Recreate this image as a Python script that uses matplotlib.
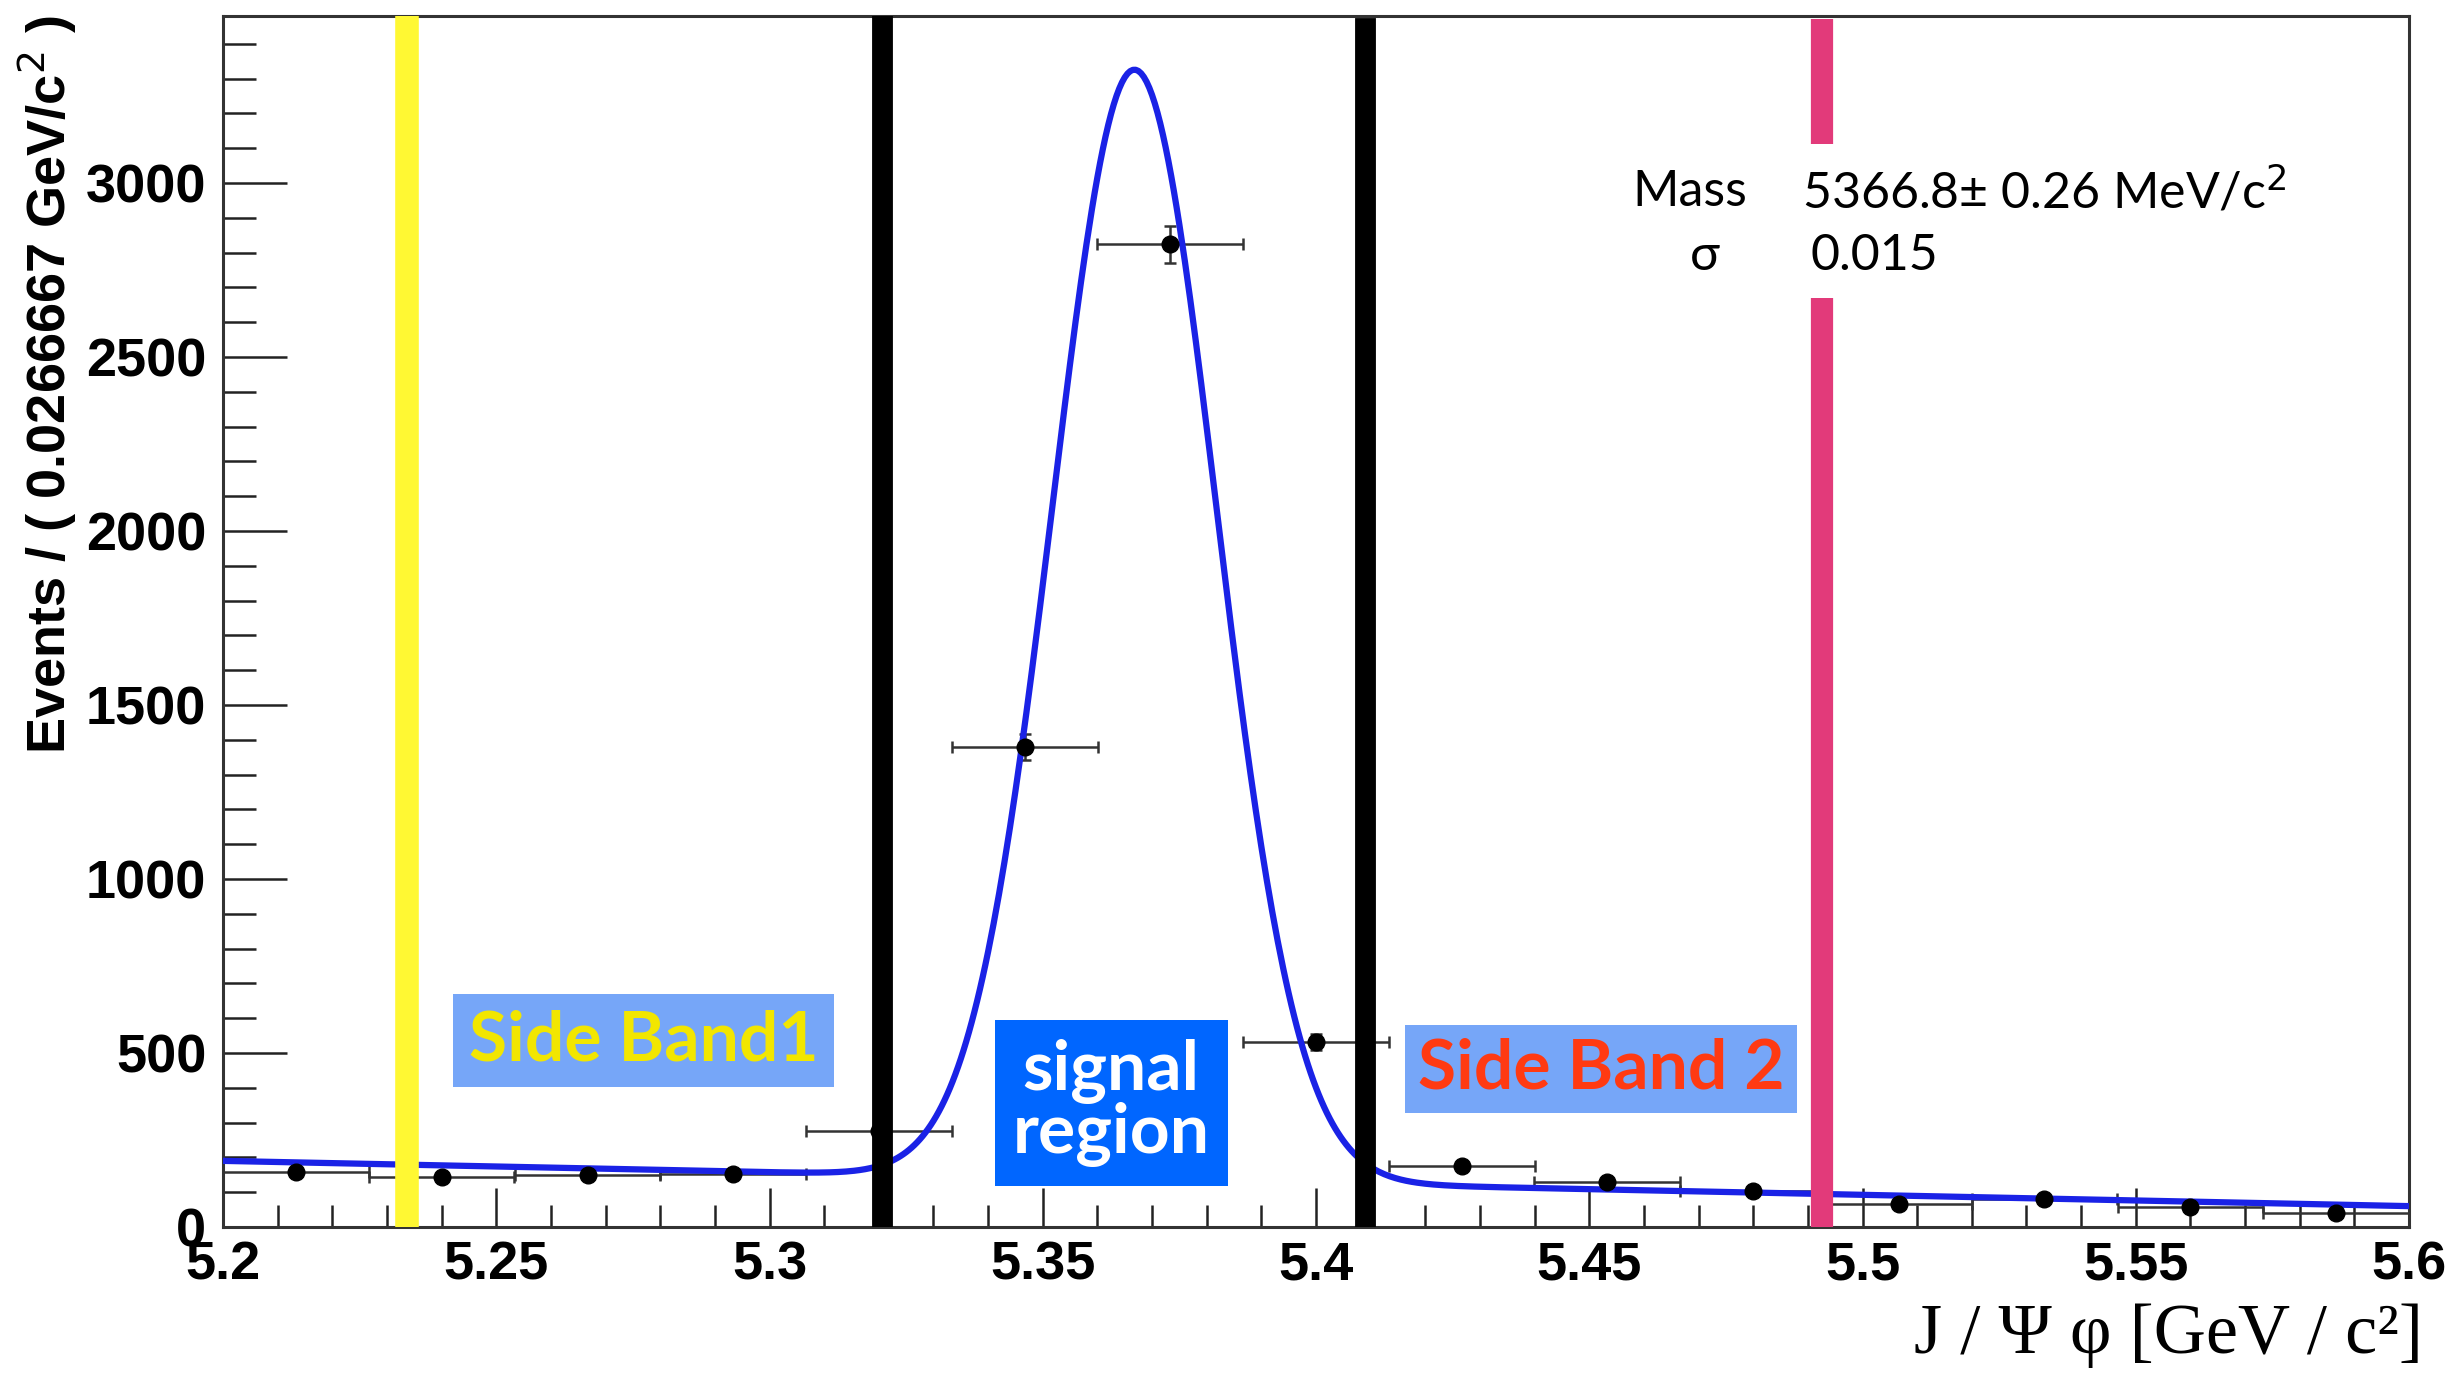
import numpy as np
import matplotlib
matplotlib.use("Agg")
import matplotlib.pyplot as plt
from matplotlib.ticker import MultipleLocator

# Binned J/psi phi invariant mass (15 bins of 0.0266667 GeV/c^2)
bin_centers = [5.2133, 5.2400, 5.2667, 5.2933, 5.3200, 5.3467, 5.3733,
               5.4000, 5.4267, 5.4533, 5.4800, 5.5067, 5.5333, 5.5600, 5.5867]
events = [158, 144, 149, 153, 275, 1380, 2824, 532, 176, 130, 104, 66, 80, 57, 39]
bin_half_width = 0.0133333

# Fit result: gaussian signal on a linear background
fit_mass = 5.3668     # GeV/c^2
fit_sigma = 0.015
fit_amplitude = 3190
bkg_lo, bkg_hi = 190, 60   # background at 5.2 and 5.6

# Region boundaries
sideband1_edge = 5.2337
signal_edges = [5.3205, 5.409]
sideband2_edge = 5.4926

mass_grid = np.linspace(5.2, 5.6, 801)
background = bkg_lo + (bkg_hi - bkg_lo) * (mass_grid - 5.2) / 0.4
fit_curve = background + fit_amplitude * np.exp(-0.5 * ((mass_grid - fit_mass) / fit_sigma) ** 2)

fig = plt.figure(figsize=(24.61, 13.88), dpi=100)
ax = fig.add_axes([223 / 2461, 1 - 1227 / 1388, 2186 / 2461, 1211 / 1388])

ax.set_xlim(5.2, 5.6)
ax.set_ylim(0, 3480)

# region lines
ax.axvline(sideband1_edge, ymin=0.0, ymax=0.995, color="#FFF833", lw=17, zorder=4)
ax.axvline(signal_edges[0], ymin=0.0, ymax=1.0, color="black", lw=15, zorder=4)
ax.axvline(signal_edges[1], ymin=0.0, ymax=0.99, color="black", lw=15, zorder=4)
ax.vlines(sideband2_edge, 0, 2670, color="#E23A7A", lw=16, zorder=4)
ax.vlines(sideband2_edge, 3112, 3470, color="#E23A7A", lw=16, zorder=4)

# data with errors
ax.errorbar(bin_centers, events, xerr=bin_half_width, yerr=np.sqrt(events),
            fmt="o", color="black", ecolor="#333333", elinewidth=1.8,
            capsize=4, capthick=1.8, markersize=12, zorder=3)

ax.plot(mass_grid, fit_curve, color="#1a22e6", lw=4.5, zorder=3)

# ROOT-like axes
ax.xaxis.set_major_locator(MultipleLocator(0.05))
ax.xaxis.set_minor_locator(MultipleLocator(0.01))
ax.yaxis.set_major_locator(MultipleLocator(500))
ax.yaxis.set_minor_locator(MultipleLocator(100))
ax.tick_params(axis="both", which="both", direction="in", top=False, right=False,
               width=1.8, color="#222222")
ax.tick_params(axis="y", which="major", length=46, pad=12)
ax.tick_params(axis="y", which="minor", length=24)
ax.tick_params(axis="x", which="major", length=28, pad=10)
ax.tick_params(axis="x", which="minor", length=16)
ax.xaxis.set_major_formatter(plt.FuncFormatter(lambda v, p: f"{v:g}"))
for lab in ax.get_xticklabels() + ax.get_yticklabels():
    lab.set_fontfamily("Liberation Sans")
    lab.set_fontweight("bold")
    lab.set_fontsize(39)
for side in ["left", "bottom", "top", "right"]:
    ax.spines[side].set_linewidth(2.2)
    ax.spines[side].set_color("#333333")

fig.text(47 / 2461, 1 - 16 / 1388, "Events / ( 0.0266667 GeV/c$^{2}$ )",
         rotation=90, ha="center", va="top", fontsize=39,
         fontweight="bold", family="Liberation Sans")

fig.text(2168 / 2461, 1 - 1336 / 1388, "J / Ψ φ [GeV / c²]",
         ha="center", va="center", fontsize=52, family="Liberation Serif")

# region labels
box_font = ["Lato", "DejaVu Sans"]
ax.text(0.1924, 0.154, "Side Band1", transform=ax.transAxes, ha="center", va="center",
        fontsize=50, fontweight="bold", color="#F2E600", family=box_font, zorder=5,
        bbox=dict(boxstyle="square,pad=0.22", fc="#76A6F8", ec="none"))
ax.text(0.4063, 0.1024, "signal\nregion", transform=ax.transAxes, ha="center", va="center",
        fontsize=50, fontweight="bold", color="white", family=box_font, zorder=5,
        linespacing=0.98,
        bbox=dict(boxstyle="square,pad=0.26", fc="#0066FF", ec="none"))
ax.text(0.6304, 0.1305, "Side Band 2", transform=ax.transAxes, ha="center", va="center",
        fontsize=50, fontweight="bold", color="#FF3A12", family=box_font, zorder=5,
        bbox=dict(boxstyle="square,pad=0.18", fc="#76A6F8", ec="none"))

# fit parameters
stat_font = ["Lato", "DejaVu Sans"]
ax.text(0.6445, 0.855, "Mass", transform=ax.transAxes, ha="left", va="center",
        fontsize=36, family=stat_font)
ax.text(0.7223, 0.855, "5366.8± 0.26 MeV/c$^{2}$", transform=ax.transAxes,
        ha="left", va="center", fontsize=36, family=stat_font)
ax.text(0.678, 0.802, "σ", transform=ax.transAxes, ha="center", va="center",
        fontsize=36, family=stat_font)
ax.text(0.7264, 0.802, "0.015", transform=ax.transAxes, ha="left", va="center",
        fontsize=36, family=stat_font)

fig.savefig("out.png", dpi=100)
